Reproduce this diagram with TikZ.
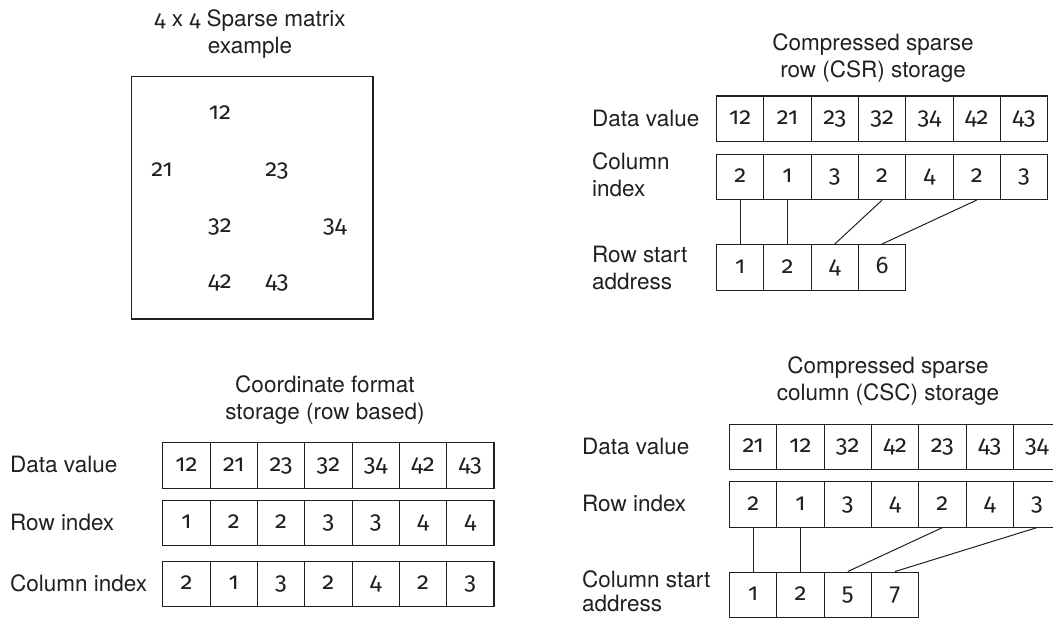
\documentclass[tikz,border=0pt]{standalone}
\usepackage{fontspec}
\setmainfont{TeX Gyre Heros}
\newfontfamily\numf{Fira Sans}[Numbers={OldStyle,Proportional}]
\definecolor{ink}{RGB}{35,31,32}

\tikzset{
  lbl/.style={font=\fontsize{22.5}{27}\selectfont, text=ink, inner sep=0pt},
  sidelbl/.style={lbl, align=left, anchor=west},
  title/.style={lbl, align=center},
  cell/.style={draw=ink, line width=1.1pt, minimum width=47.3pt,
    minimum height=45.5pt, inner sep=0pt, anchor=north west,
    text height=14pt, text depth=2pt,
    font=\fontsize{24}{27}\selectfont\numf, text=ink},
  entry/.style={font=\fontsize{24}{27}\selectfont\numf, text=ink,
    inner sep=0pt, anchor=base},
  frame/.style={draw=ink, line width=1.2pt, inner sep=0pt, anchor=north west},
  link/.style={draw=ink, line width=1pt},
}

% one row of storage cells, named <prefix>1, <prefix>2, ...
\newcommand\cellrow[4]{%
  \foreach \v [count=\i] in {#4} {
    \node[cell] (#1\i) at ({#2+(\i-1)*47.3},#3) {\v};
  }}

\begin{document}
\begin{tikzpicture}[x=1pt, y=-1pt]
\clip (0,0) rectangle (1053,618);

% ---- 4 x 4 sparse matrix ----
\node[title] (mattitle) at (250,34.5) {{\numf 4} x {\numf 4} Sparse matrix\\example};
\node[frame, minimum width=241.8pt, minimum height=242.6pt] (mat) at (130.5,75.7) {};
\node[entry] (m12) at (220,120)   {12};
\node[entry] (m21) at (162,176.5) {21};
\node[entry] (m23) at (277,176.5) {23};
\node[entry] (m32) at (220,232)   {32};
\node[entry] (m34) at (335,232)   {34};
\node[entry] (m42) at (220,288)   {42};
\node[entry] (m43) at (277,288)   {43};

% ---- CSR storage ----
\node[title] (csrtitle) at (873,58.4) {Compressed sparse\\row (CSR) storage};
\node[sidelbl] (csrlv) at (592,118.2) {Data value};
\node[sidelbl] (csrlc) at (592,174.5) {Column\\index};
\node[sidelbl] (csrlr) at (592,268.4) {Row start\\address};
\cellrow{csrv}{716}{95.5}{12,21,23,32,34,42,43}
\cellrow{csrc}{716}{153.5}{2,1,3,2,4,2,3}
\cellrow{csrr}{716}{244}{1,2,4,6}
\draw[link] (csrc1.south) -- (csrr1.north);
\draw[link] (csrc2.south) -- (csrr2.north);
\draw[link] (csrc4.south) -- (csrr3.north);
\draw[link] (csrc6.south) -- (csrr4.north);

% ---- coordinate format ----
\node[title] (cootitle) at (325,399.9) {Coordinate format\\storage (row based)};
\node[sidelbl] (coolv) at (10,464.8) {Data value};
\node[sidelbl] (coolr) at (10,522.3) {Row index};
\node[sidelbl] (coolc) at (10,583.3) {Column index};
\cellrow{coov}{162.3}{442}{12,21,23,32,34,42,43}
\cellrow{coor}{162.3}{499.5}{1,2,2,3,3,4,4}
\cellrow{cooc}{162.3}{560.5}{2,1,3,2,4,2,3}

% ---- CSC storage ----
\node[title] (csctitle) at (888,381.4) {Compressed sparse\\column (CSC) storage};
\node[sidelbl] (csclv) at (582,446.3) {Data value};
\node[sidelbl] (csclr) at (582,503.8) {Row index};
\node[sidelbl, font=\fontsize{22.5}{24.5}\selectfont] (csclc) at (582,591.5) {Column start\\address};
\cellrow{cscv}{729}{423.5}{21,12,32,42,23,43,34}
\cellrow{cscr}{729}{481}{2,1,3,4,2,4,3}
\cellrow{cscc}{729}{571.5}{1,2,5,7}
\draw[link] (cscr1.south) -- (cscc1.north);
\draw[link] (cscr2.south) -- (cscc2.north);
\draw[link] (cscr5.south) -- (cscc3.north);
\draw[link] (cscr7.south) -- (cscc4.north);
\end{tikzpicture}
\end{document}
